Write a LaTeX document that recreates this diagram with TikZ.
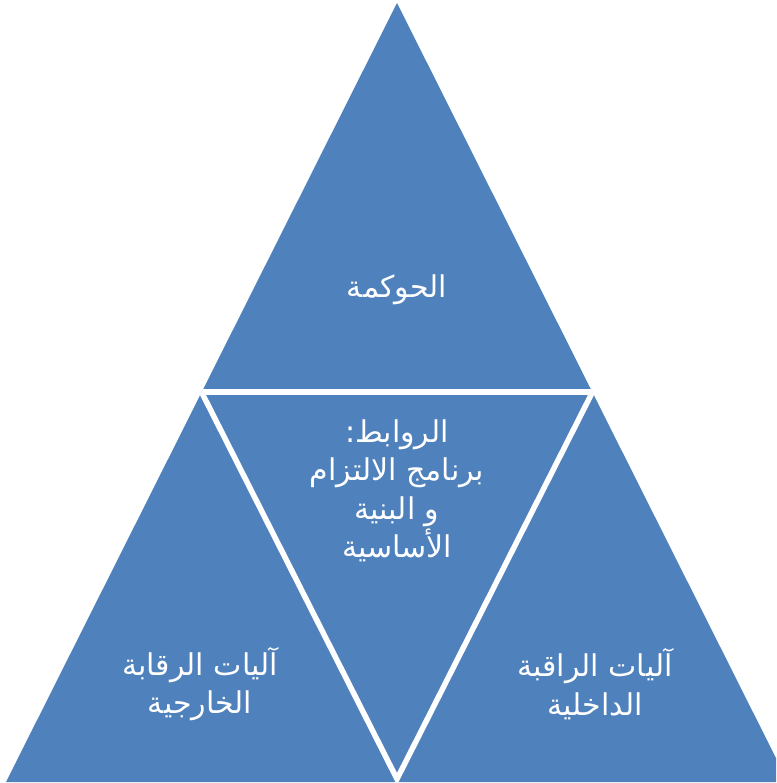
\documentclass[tikz,border=0pt]{standalone}
\usepackage{fontspec}
\usetikzlibrary{calc}
\newfontfamily\arabicfont[Script=Arabic]{DejaVu Sans}
\TeXXeTstate=1
\definecolor{triblue}{HTML}{4F81BD}
\begin{document}
\begin{tikzpicture}[x=1pt,y=-1pt,
  lbl/.style={text=white,align=center,font=\arabicfont\fontsize{30}{38.5}\selectfont,inner sep=0pt},
  gap/.style={draw=white,line width=5.5pt}]
\useasboundingbox (0,0) rectangle (776,783);
\clip (0,0) rectangle (776,783);
\coordinate (apex) at (397,3);
\coordinate (bl) at (6,782);
\coordinate (br) at (788,782);
\coordinate (ml) at (201.5,392);
\coordinate (mr) at (592.5,392);
\coordinate (mb) at (397,779);
\fill[triblue] (apex) -- (bl) -- (br) -- cycle;
\begin{scope}
\clip (apex) -- (bl) -- (br) -- cycle;
\draw[gap] ($(ml)+(-20,0)$) -- ($(mr)+(20,0)$);
\draw[gap,line join=miter] ($(ml)!-0.05!(mb)$) -- (mb) -- ($(mr)!-0.05!(mb)$);
\end{scope}
\node[lbl] (top) at (397,290) {\beginR الحوكمة\endR};
\node[lbl] (mid) at (397,491) {\beginR الروابط:\endR\\ \beginR برنامج الالتزام\endR\\ \beginR و البنية\endR\\ \beginR الأساسية\endR};
\node[lbl] (left) at (200,684) {\beginR آليات الرقابة\endR\\ \beginR الخارجية\endR};
\node[lbl] (right) at (595,684) {\beginR آليات الراقبة\endR\\ \beginR الداخلية\endR};
\end{tikzpicture}
\end{document}
